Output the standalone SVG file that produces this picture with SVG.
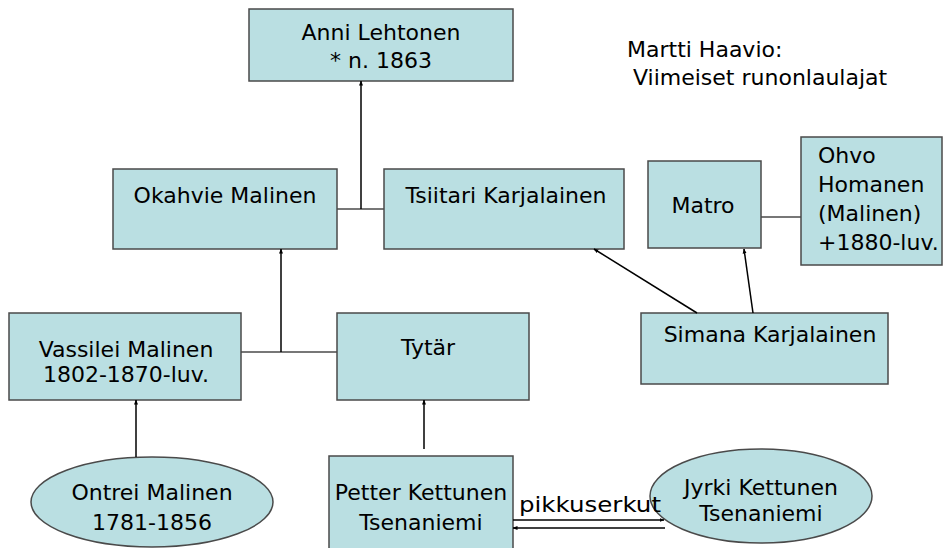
<svg xmlns="http://www.w3.org/2000/svg" width="943" height="548" viewBox="0 0 943 548">
<style>
.box{fill:#BADFE2;stroke:#4a4a4a;stroke-width:1.5}
.t{font-family:"Comic Sans MS","DejaVu Sans",sans-serif;font-size:22px;fill:#000}
.c{text-anchor:middle}
.ln{stroke:#4a4a4a;stroke-width:1.5;fill:none}
.ar{stroke:#000;stroke-width:1.5;fill:none;marker-end:url(#ah)}
</style>
<defs>
<marker id="ah" viewBox="0 0 10 10" refX="9" refY="5" markerWidth="5" markerHeight="5" orient="auto" markerUnits="userSpaceOnUse">
<path d="M0,1 L10,5 L0,9 z" fill="#000"/>
</marker>
</defs>
<rect width="943" height="548" fill="#fff"/>
<g id="anni"><rect class="box" x="249" y="9" width="264" height="72"/>
<text class="t c" x="381" y="40">Anni Lehtonen</text><text class="t c" x="381" y="68">* n. 1863</text></g>
<g id="haavio"><text class="t" x="627" y="57">Martti Haavio:</text><text class="t" x="633" y="85">Viimeiset runonlaulajat</text></g>
<g id="okahvie"><rect class="box" x="113" y="169" width="224" height="80"/>
<text class="t c" x="225" y="203">Okahvie Malinen</text></g>
<g id="tsiitari"><rect class="box" x="384" y="169" width="240" height="80"/>
<text class="t c" x="506" y="203">Tsiitari Karjalainen</text></g>
<g id="matro"><rect class="box" x="648" y="161" width="113" height="87"/>
<text class="t c" x="703" y="213">Matro</text></g>
<g id="ohvo"><rect class="box" x="801" y="137" width="141" height="128"/>
<text class="t" x="818" y="163">Ohvo</text><text class="t" x="818" y="192">Homanen</text><text class="t" x="818" y="221">(Malinen)</text><text class="t" x="818" y="250">+1880-luv.</text></g>
<g id="vassilei"><rect class="box" x="9" y="313" width="232" height="87"/>
<text class="t c" x="126" y="357">Vassilei Malinen</text><text class="t c" x="126" y="382">1802-1870-luv.</text></g>
<g id="tytar"><rect class="box" x="337" y="313" width="192" height="87"/>
<text class="t c" x="428" y="355">Tytär</text></g>
<g id="simana"><rect class="box" x="641" y="313" width="247" height="71"/>
<text class="t c" x="770" y="342">Simana Karjalainen</text></g>
<g id="ontrei"><ellipse class="box" cx="152" cy="502" rx="121" ry="45"/>
<text class="t c" x="152" y="500">Ontrei Malinen</text><text class="t c" x="152" y="530">1781-1856</text></g>
<g id="petter"><rect class="box" x="329" y="456" width="184" height="100"/>
<text class="t c" x="421" y="500">Petter Kettunen</text><text class="t c" x="421" y="530">Tsenaniemi</text></g>
<g id="jyrki"><ellipse class="box" cx="761" cy="496" rx="111" ry="47"/>
<text class="t c" x="761" y="495">Jyrki Kettunen</text><text class="t c" x="761" y="521">Tsenaniemi</text></g>
<g id="connectors">
<line class="ln" x1="337" y1="209" x2="384" y2="209"/>
<line class="ar" x1="361" y1="209" x2="361" y2="81"/>
<line class="ln" x1="241" y1="352" x2="337" y2="352"/>
<line class="ar" x1="281" y1="352" x2="281" y2="249"/>
<line class="ln" x1="761" y1="217" x2="801" y2="217"/>
<line class="ar" x1="697" y1="313" x2="594" y2="249"/>
<line class="ar" x1="753" y1="313" x2="744" y2="249"/>
<line class="ar" x1="136" y1="457" x2="136" y2="400"/>
<line class="ar" x1="424" y1="449" x2="424" y2="400"/>
<line class="ar" x1="513" y1="520" x2="664" y2="520"/>
<line class="ar" x1="665" y1="528" x2="513" y2="528"/>
<text class="t" x="519" y="512" textLength="142" lengthAdjust="spacingAndGlyphs">pikkuserkut</text>
</g>
</svg>
